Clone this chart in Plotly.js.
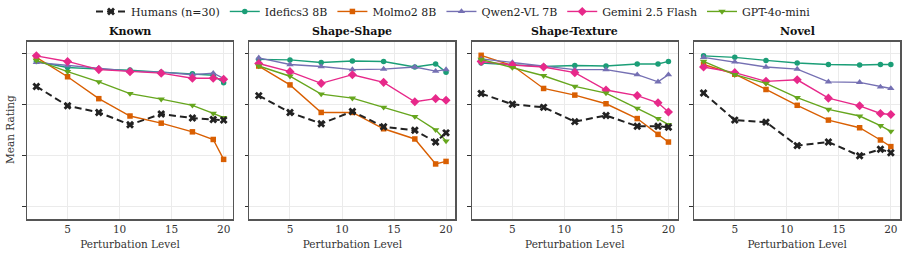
<!DOCTYPE html>
<html>
<head>
<meta charset="utf-8">
<script src="https://cdn.plot.ly/plotly-3.0.1.min.js"></script>
<style>
  html, body { margin: 0; padding: 0; background: #fff; }
  #chart { width: 907px; height: 254px; }
</style>
</head>
<body>
<div id="chart"></div>
<script>
// Perturbation levels shared by every condition
const levels = [2, 5, 8, 11, 14, 17, 19, 20];

const conditions = ["Known", "Shape-Shape", "Shape-Texture", "Novel"];

// Mean ratings per model, one array per condition (same order as `conditions`)
const humans = [
  [3.35, 2.97, 2.84, 2.60, 2.81, 2.73, 2.70, 2.69],
  [3.17, 2.84, 2.62, 2.86, 2.56, 2.49, 2.26, 2.44],
  [3.21, 3.00, 2.94, 2.66, 2.78, 2.57, 2.57, 2.55],
  [3.22, 2.69, 2.65, 2.19, 2.26, 1.99, 2.12, 2.05]
];
const idefics = [
  [3.84, 3.72, 3.69, 3.67, 3.63, 3.60, 3.57, 3.42],
  [3.88, 3.87, 3.82, 3.85, 3.84, 3.73, 3.79, 3.63],
  [3.81, 3.78, 3.74, 3.76, 3.75, 3.79, 3.79, 3.84],
  [3.95, 3.92, 3.86, 3.81, 3.78, 3.77, 3.78, 3.78]
];
const molmo = [
  [3.92, 3.54, 3.11, 2.77, 2.63, 2.46, 2.31, 1.92],
  [3.75, 3.38, 2.84, 2.84, 2.52, 2.32, 1.83, 1.88],
  [3.96, 3.76, 3.31, 3.18, 3.01, 2.72, 2.41, 2.26],
  [3.78, 3.59, 3.29, 2.98, 2.69, 2.54, 2.30, 2.17]
];
const qwen = [
  [3.82, 3.76, 3.71, 3.65, 3.63, 3.58, 3.61, 3.51],
  [3.91, 3.78, 3.74, 3.68, 3.69, 3.73, 3.65, 3.68],
  [3.89, 3.82, 3.75, 3.68, 3.68, 3.58, 3.44, 3.58],
  [3.92, 3.83, 3.73, 3.69, 3.44, 3.43, 3.34, 3.31]
];
const gemini = [
  [3.95, 3.84, 3.68, 3.64, 3.61, 3.51, 3.51, 3.49],
  [3.80, 3.64, 3.41, 3.58, 3.43, 3.05, 3.11, 3.08],
  [3.84, 3.77, 3.73, 3.62, 3.28, 3.17, 3.03, 2.85],
  [3.73, 3.62, 3.45, 3.48, 3.12, 2.97, 2.82, 2.80]
];
const gpt = [
  [3.86, 3.64, 3.44, 3.21, 3.10, 2.98, 2.82, 2.74],
  [3.75, 3.55, 3.20, 3.12, 2.94, 2.76, 2.50, 2.28],
  [3.88, 3.72, 3.56, 3.35, 3.22, 2.92, 2.72, 2.60],
  [3.84, 3.58, 3.41, 3.13, 2.90, 2.77, 2.58, 2.47]
];

const seriesNames = ["Humans (n=30)", "Idefics3 8B", "Molmo2 8B", "Qwen2-VL 7B", "Gemini 2.5 Flash", "GPT-4o-mini"];
const seriesData = [humans, idefics, molmo, qwen, gemini, gpt];

const styles = [
  { color: "#222222", symbol: "x", size: 7, width: 2, dash: "7px,4px" },
  { color: "#1b9e77", symbol: "circle", size: 5.5, width: 1.4, dash: "solid" },
  { color: "#d95f02", symbol: "square", size: 5.5, width: 1.4, dash: "solid" },
  { color: "#7570b3", symbol: "triangle-up", size: 6.5, width: 1.4, dash: "solid" },
  { color: "#e7298a", symbol: "diamond", size: 7, width: 1.4, dash: "solid" },
  { color: "#66a61e", symbol: "triangle-down", size: 6.5, width: 1.4, dash: "solid" }
];

const W = 907, H = 254;
const panelLeft = 27, panelWidth = 206, panelStep = 222.4;
const plotTop = 41.7, plotBottom = 219.3;
const font = "DejaVu Serif, serif";

const traces = [];
conditions.forEach((cond, ci) => {
  const ax = ci === 0 ? "" : String(ci + 1);
  // humans drawn last so the dashed line sits on top; legend order kept via legendrank
  const order = [1, 2, 3, 4, 5, 0];
  order.forEach(si => {
    const s = styles[si];
    traces.push({
      x: levels,
      y: seriesData[si][ci],
      type: "scatter",
      mode: "lines+markers",
      name: seriesNames[si],
      legendgroup: seriesNames[si],
      legendrank: si + 1,
      showlegend: ci === 0,
      xaxis: "x" + ax,
      yaxis: "y" + ax,
      line: { color: s.color, width: s.width, dash: s.dash },
      marker: { color: s.color, symbol: s.symbol, size: s.size, line: { width: 0 } },
      cliponaxis: false
    });
  });
});

const layout = {
  width: W,
  height: H,
  margin: { l: 0, r: 0, t: 0, b: 0, autoexpand: false },
  paper_bgcolor: "#ffffff",
  plot_bgcolor: "#ffffff",
  font: { family: font, size: 10, color: "#222" },
  showlegend: true,
  legend: {
    orientation: "h",
    x: 0.5, xanchor: "center",
    y: 1.012, yanchor: "top",
    font: { family: font, size: 11, color: "#222" },
    itemwidth: 30,
    tracegroupgap: 0,
    bgcolor: "rgba(0,0,0,0)"
  },
  annotations: []
};

const yDomain = [(H - plotBottom) / H, (H - plotTop) / H];

conditions.forEach((cond, ci) => {
  const suffix = ci === 0 ? "" : String(ci + 1);
  const left = panelLeft + ci * panelStep;
  const dom = [left / W, (left + panelWidth) / W];
  layout["xaxis" + suffix] = {
    domain: dom,
    anchor: "y" + suffix,
    range: [1.1, 20.9],
    tickvals: [5, 10, 15, 20],
    ticks: "",
    showgrid: true,
    gridcolor: "#ebebeb",
    gridwidth: 1,
    zeroline: false,
    showline: true,
    linecolor: "#555555",
    linewidth: 1.3,
    mirror: true,
    tickfont: { family: font, size: 10.5, color: "#333" },
    title: { text: "Perturbation Level", font: { family: font, size: 10.5, color: "#333" }, standoff: 6 }
  };
  layout["yaxis" + suffix] = {
    domain: yDomain,
    anchor: "x" + suffix,
    range: [0.745, 4.227],
    tickvals: [1, 2, 3, 4],
    showticklabels: false,
    ticks: "outside",
    ticklen: 3.5,
    tickwidth: 1,
    tickcolor: "#333",
    showgrid: true,
    gridcolor: "#ebebeb",
    gridwidth: 1,
    zeroline: false,
    showline: true,
    linecolor: "#555555",
    linewidth: 1.3,
    mirror: true
  };
  layout.annotations.push({
    text: "<b>" + cond + "</b>",
    xref: "paper", yref: "paper",
    x: (left + panelWidth / 2) / W,
    y: (H - plotTop + 2) / H,
    xanchor: "center", yanchor: "bottom",
    showarrow: false,
    font: { family: font, size: 11, color: "#111" }
  });
});

layout.annotations.push({
  text: "Mean Rating",
  xref: "paper", yref: "paper",
  x: 10 / W, y: (H - 130) / H,
  xanchor: "center", yanchor: "middle",
  textangle: -90,
  showarrow: false,
  font: { family: font, size: 10.5, color: "#333" }
});

Plotly.newPlot("chart", traces, layout, { displayModeBar: false, staticPlot: true });
</script>
</body>
</html>
